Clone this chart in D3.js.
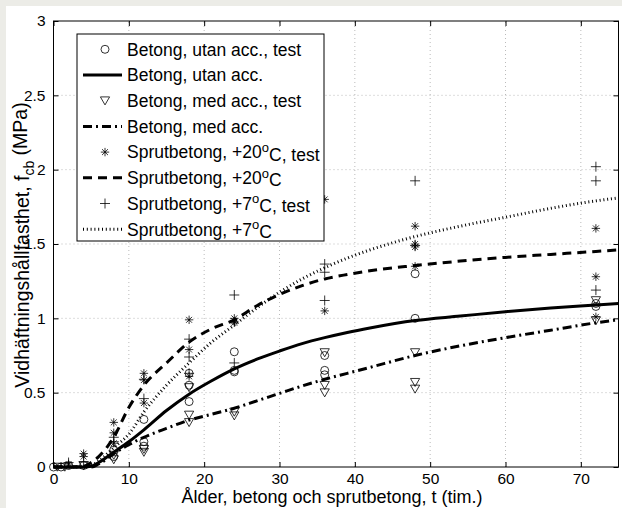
<!DOCTYPE html>
<html>
<head>
<meta charset="utf-8">
<script src="https://cdn.jsdelivr.net/npm/d3@7"></script>
<style>
  body { margin: 0; background: #ecece7; }
  svg { display: block; font-family: "Liberation Sans", Arial, sans-serif; }
</style>
</head>
<body>
<div id="chart"></div>
<script>
// model curves at these ages (hours)
var curveT = [0, 2, 4, 5, 6, 8, 10, 12, 15, 18, 21, 24, 27, 30, 33, 36, 39, 42, 48, 54, 60, 66, 72, 75];
var betongUtan = [0, 0, 0, 0.005, 0.03, 0.10, 0.17, 0.25, 0.38, 0.49, 0.58, 0.66, 0.725, 0.78, 0.83, 0.87, 0.905, 0.935, 0.985, 1.015, 1.045, 1.07, 1.09, 1.10];
var betongMed  = [0, 0, 0, 0, 0.02, 0.09, 0.15, 0.20, 0.26, 0.315, 0.355, 0.395, 0.445, 0.495, 0.545, 0.59, 0.63, 0.67, 0.75, 0.815, 0.87, 0.92, 0.97, 0.99];
var sprut20    = [0, 0, 0.005, 0.03, 0.07, 0.20, 0.40, 0.55, 0.70, 0.84, 0.93, 0.99, 1.085, 1.16, 1.22, 1.265, 1.295, 1.32, 1.355, 1.385, 1.41, 1.43, 1.45, 1.46];
var sprut7     = [0, 0, 0, 0.01, 0.04, 0.13, 0.22, 0.37, 0.55, 0.70, 0.84, 0.955, 1.07, 1.175, 1.265, 1.34, 1.405, 1.46, 1.55, 1.62, 1.68, 1.74, 1.79, 1.81];

// test results [t, value]
var utanTest = [[0,0],[1,0],[2,0.01],[4,0.01],[8,0.115],[8,0.07],[12,0.32],[12,0.17],[12,0.14],
  [18,0.63],[18,0.55],[18,0.44],[24,0.775],[24,0.65],[24,0.64],[36,0.75],[36,0.65],[36,0.62],
  [48,1.30],[48,1.00],[72,1.10],[72,1.08]];
var medTest = [[0.5,0],[1.5,0],[4,0.01],[8,0.08],[8,0.05],[12,0.12],[12,0.10],[18,0.535],[18,0.35],[18,0.30],
  [24,0.37],[24,0.345],[36,0.77],[36,0.55],[36,0.50],[48,0.77],[48,0.57],[48,0.525],[72,1.12],[72,0.985]];
var sprut20Test = [[2,0.02],[4,0.09],[4,0.07],[8,0.30],[8,0.23],[8,0.16],[12,0.63],[12,0.585],[12,0.43],
  [18,0.99],[18,0.79],[18,0.61],[24,1.0],[24,0.98],[24,0.97],[36,1.80],[36,1.05],
  [48,1.62],[48,1.50],[48,1.48],[48,1.35],[72,1.605],[72,1.28],[72,1.01]];
var sprut7Test = [[2,0.03],[4,0.035],[8,0.20],[8,0.17],[12,0.59],[12,0.46],[18,0.86],[18,0.74],[18,0.63],
  [24,1.157],[24,0.70],[36,1.365],[36,1.31],[36,1.12],[48,1.925],[48,1.49],[72,2.02],[72,1.925],[72,1.19]];

var xTicks = [0, 10, 20, 30, 40, 50, 60, 70];
var yTicks = [0, 0.5, 1, 1.5, 2, 2.5, 3];

var W = 622, H = 508;
var svg = d3.select("#chart").append("svg").attr("width", W).attr("height", H);
svg.append("rect").attr("width", W).attr("height", H).attr("fill", "#ecece7");
svg.append("rect").attr("x", 6).attr("y", 6).attr("width", W - 6).attr("height", H - 6).attr("fill", "#fff");

var x = d3.scaleLinear().domain([0, 75]).range([53.5, 618.5]);
var y = d3.scaleLinear().domain([0, 3]).range([467, 21]);

// grid
var grid = svg.append("g").attr("stroke", "#aaa").attr("stroke-width", 0.8).attr("stroke-dasharray", "1,3");
grid.selectAll("line.gx").data(xTicks.slice(1)).enter().append("line")
  .attr("x1", d => x(d)).attr("x2", d => x(d)).attr("y1", y(0)).attr("y2", y(3));
grid.selectAll("line.gy").data(yTicks.slice(1, -1)).enter().append("line")
  .attr("y1", d => y(d)).attr("y2", d => y(d)).attr("x1", x(0)).attr("x2", x(75));

// axes
function styleAxis(g) {
  g.select(".domain").remove();
  g.selectAll("text").attr("font-size", "15.5px").attr("fill", "#000").attr("font-family", "Liberation Sans, Arial, sans-serif");
}
svg.append("g").attr("transform", "translate(0," + y(0) + ")")
  .call(d3.axisBottom(x).tickValues(xTicks).tickSizeInner(-5).tickSizeOuter(0).tickPadding(6)).call(styleAxis);
svg.append("g").attr("transform", "translate(" + x(0) + ",0)")
  .call(d3.axisLeft(y).tickValues(yTicks).tickFormat(d => String(d)).tickSizeInner(-5).tickSizeOuter(0).tickPadding(8)).call(styleAxis);
svg.append("g").attr("transform", "translate(0," + y(3) + ")")
  .call(d3.axisTop(x).tickValues(xTicks).tickFormat("").tickSizeInner(-5).tickSizeOuter(0)).call(styleAxis);
svg.append("g").attr("transform", "translate(" + x(75) + ",0)")
  .call(d3.axisRight(y).tickValues(yTicks).tickFormat("").tickSizeInner(-5).tickSizeOuter(0)).call(styleAxis);

svg.append("rect").attr("x", x(0)).attr("y", y(3)).attr("width", x(75) - x(0)).attr("height", y(0) - y(3))
  .attr("fill", "none").attr("stroke", "#000").attr("stroke-width", 1);

// markers
function marker(g, type, cx, cy) {
  if (type === "o") {
    g.append("circle").attr("cx", cx).attr("cy", cy).attr("r", 4);
  } else if (type === "v") {
    g.append("path").attr("d", "M" + (cx - 4.6) + "," + (cy - 3.8) + "L" + (cx + 4.6) + "," + (cy - 3.8) + "L" + cx + "," + (cy + 4.2) + "Z");
  } else if (type === "*") {
    var r = 4.2, d = r * 0.7;
    g.append("path").attr("d", "M" + (cx - r) + "," + cy + "H" + (cx + r) + "M" + cx + "," + (cy - r) + "V" + (cy + r) +
      "M" + (cx - d) + "," + (cy - d) + "L" + (cx + d) + "," + (cy + d) + "M" + (cx - d) + "," + (cy + d) + "L" + (cx + d) + "," + (cy - d));
  } else if (type === "+") {
    var s = 5;
    g.append("path").attr("d", "M" + (cx - s) + "," + cy + "H" + (cx + s) + "M" + cx + "," + (cy - s) + "V" + (cy + s));
  }
}

var line = d3.line().x(d => x(d[0])).y(d => y(d[1])).curve(d3.curveMonotoneX);
var lineStyles = {
  solid:   { w: 3, dash: null },
  dashdot: { w: 3, dash: "9,4,2,4" },
  dashed:  { w: 3, dash: "9,6" },
  dotted:  { w: 3, dash: "1,2.8" }
};

var series = [
  { kind: "m", type: "o", data: utanTest, label: ["Betong, utan acc., test"] },
  { kind: "l", style: "solid", vals: betongUtan, label: ["Betong, utan acc."] },
  { kind: "m", type: "v", data: medTest, label: ["Betong, med acc., test"] },
  { kind: "l", style: "dashdot", vals: betongMed, label: ["Betong, med acc."] },
  { kind: "m", type: "*", data: sprut20Test, label: ["Sprutbetong, +20", "C, test"] },
  { kind: "l", style: "dashed", vals: sprut20, label: ["Sprutbetong, +20", "C"] },
  { kind: "m", type: "+", data: sprut7Test, label: ["Sprutbetong, +7", "C, test"] },
  { kind: "l", style: "dotted", vals: sprut7, label: ["Sprutbetong, +7", "C"] }
];

var plot = svg.append("g");
series.forEach(function (s) {
  if (s.kind === "m") {
    var g = plot.append("g").attr("fill", "none").attr("stroke", "#000").attr("stroke-width", 0.8);
    s.data.forEach(p => marker(g, s.type, x(p[0]), y(p[1])));
  } else {
    var st = lineStyles[s.style];
    plot.append("path").datum(curveT.map((t, i) => [t, s.vals[i]]))
      .attr("d", line).attr("fill", "none").attr("stroke", "#000")
      .attr("stroke-width", st.w).attr("stroke-dasharray", st.dash);
  }
});

// legend
var lg = svg.append("g");
lg.append("rect").attr("x", 77).attr("y", 34).attr("width", 247).attr("height", 207)
  .attr("fill", "#fff").attr("stroke", "#000").attr("stroke-width", 1);
series.forEach(function (s, i) {
  var ly = 49.3 + 25.7 * i;
  if (s.kind === "m") {
    var g = lg.append("g").attr("fill", "none").attr("stroke", "#000").attr("stroke-width", 0.8);
    marker(g, s.type, 105, ly);
  } else {
    var st = lineStyles[s.style];
    lg.append("line").attr("x1", 83).attr("x2", 122).attr("y1", ly).attr("y2", ly)
      .attr("stroke", "#000").attr("stroke-width", st.w).attr("stroke-dasharray", st.dash);
  }
  var t = lg.append("text").attr("x", 127).attr("y", ly).attr("dy", "0.36em").attr("font-size", "17.5px");
  t.append("tspan").text(s.label[0]);
  if (s.label.length > 1) {
    t.append("tspan").attr("dy", "-0.5em").attr("font-size", "13px").text("o");
    t.append("tspan").attr("dy", "0.5em").text(s.label[1]);
  }
});

// axis titles
svg.append("text").attr("x", x(37.5) - 4).attr("y", 503).attr("text-anchor", "middle")
  .attr("font-size", "18px").text("Ålder, betong och sprutbetong, t (tim.)");
var yl = svg.append("text").attr("transform", "translate(29," + 245 + ") rotate(-90)")
  .attr("text-anchor", "middle").attr("font-size", "19.5px");
yl.append("tspan").text("Vidhäftningshållfasthet, f");
yl.append("tspan").attr("dy", "0.35em").attr("font-size", "14px").text("cb");
yl.append("tspan").attr("dy", "-0.35em").text(" (MPa)");
</script>
</body>
</html>
